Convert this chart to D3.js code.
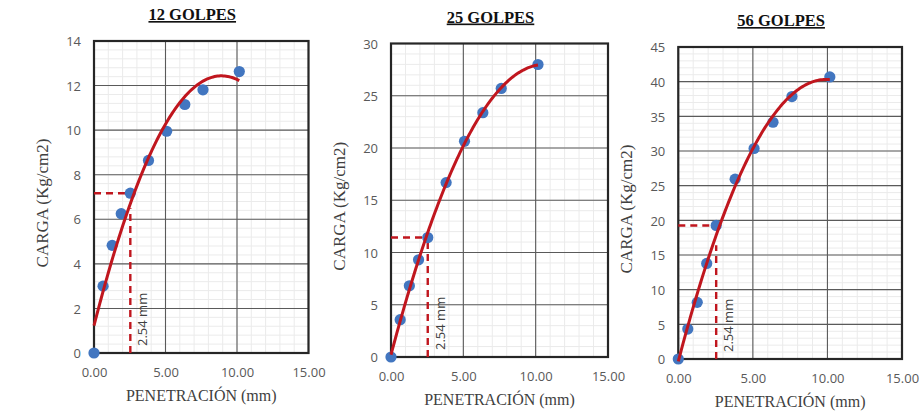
<!DOCTYPE html>
<html><head><meta charset="utf-8">
<script src="https://cdn.jsdelivr.net/npm/d3@7"></script>
<style>body{margin:0;background:#fff}</style>
</head><body><svg id="c" width="921" height="416"></svg>
<script>
// ---- data ----
const penetration = [0, 0.635, 1.27, 1.905, 2.54, 3.81, 5.08, 6.35, 7.62, 10.16];
const carga12 = [0, 3.0, 4.83, 6.25, 7.17, 8.64, 9.95, 11.15, 11.81, 12.63];
const carga25 = [0, 3.57, 6.82, 9.3, 11.43, 16.69, 20.64, 23.38, 25.7, 27.99];
const carga56 = [0, 4.32, 8.17, 13.78, 19.26, 25.94, 30.36, 34.15, 37.85, 40.68];
const titles = ["12 GOLPES", "25 GOLPES", "56 GOLPES"];
const yMax = [14, 30, 45];
const yStep = [2, 5, 5];
const xTicks = [0, 5, 10, 15];
const refPenetration = 2.54;
const refCarga = [7.17, 11.43, 19.26];  // horizontal dashed level
const refCurve = [6.5, 11.43, 16.4];    // top of vertical dashed
const refLabel = "2.54 mm";
const xTitle = "PENETRACIÓN (mm)";
const yTitle = "CARGA (Kg/cm2)";

// ---- layout ----
const frames = [
  {l: 94, r: 308.5, t: 41, b: 353},
  {l: 391, r: 608, t: 43.5, b: 357},
  {l: 678.3, r: 902, t: 47, b: 359}
];
const series = [carga12, carga25, carga56];

function polyfit2(xs, ys) {
  // least squares quadratic (trendline)
  const S = [0,0,0,0,0], T = [0,0,0];
  xs.forEach((x, i) => {
    for (let k = 0; k < 5; k++) S[k] += Math.pow(x, k);
    for (let k = 0; k < 3; k++) T[k] += ys[i] * Math.pow(x, k);
  });
  const A = [[S[0],S[1],S[2],T[0]],[S[1],S[2],S[3],T[1]],[S[2],S[3],S[4],T[2]]];
  for (let i = 0; i < 3; i++) {
    let p = i;
    for (let j = i+1; j < 3; j++) if (Math.abs(A[j][i]) > Math.abs(A[p][i])) p = j;
    [A[i], A[p]] = [A[p], A[i]];
    for (let j = 0; j < 3; j++) if (j !== i) {
      const f = A[j][i] / A[i][i];
      for (let k = i; k < 4; k++) A[j][k] -= f * A[i][k];
    }
  }
  return [A[0][3]/A[0][0], A[1][3]/A[1][1], A[2][3]/A[2][2]];
}

const svg = d3.select("#c");
const sans = "'Open Sans', 'Liberation Sans', sans-serif";
const serif = "'Liberation Serif', 'DejaVu Serif', serif";
const red = "#C0161E", blue = "#4276C0";

frames.forEach((f, pi) => {
  const ys = series[pi];
  const x = d3.scaleLinear().domain([0, 15]).range([f.l, f.r]);
  const y = d3.scaleLinear().domain([0, yMax[pi]]).range([f.b, f.t]);
  const g = svg.append("g");

  // minor grid
  const xMinor = d3.range(0, 15.001, 1);
  const yMinor = d3.range(0, yMax[pi] + 1e-6, yStep[pi] / 5);
  g.selectAll(".vmin").data(xMinor).join("line")
    .attr("x1", d => x(d)).attr("x2", d => x(d)).attr("y1", f.t).attr("y2", f.b)
    .attr("stroke", "#ebebeb").attr("stroke-width", 1);
  g.selectAll(".hmin").data(yMinor).join("line")
    .attr("y1", d => y(d)).attr("y2", d => y(d)).attr("x1", f.l).attr("x2", f.r)
    .attr("stroke", "#ebebeb").attr("stroke-width", 1);
  // major grid
  const yMajor = d3.range(0, yMax[pi] + 1e-6, yStep[pi]);
  g.selectAll(".vmaj").data(xTicks).join("line")
    .attr("x1", d => x(d)).attr("x2", d => x(d)).attr("y1", f.t).attr("y2", f.b)
    .attr("stroke", "#5a5a5a").attr("stroke-width", 1.1);
  g.selectAll(".hmaj").data(yMajor).join("line")
    .attr("y1", d => y(d)).attr("y2", d => y(d)).attr("x1", f.l).attr("x2", f.r)
    .attr("stroke", "#5a5a5a").attr("stroke-width", 1.1);

  // frame
  g.append("rect").attr("x", f.l).attr("y", f.t).attr("width", f.r - f.l).attr("height", f.b - f.t)
    .attr("fill", "none").attr("stroke", "#262626").attr("stroke-width", 2.2);

  // axes
  const xAxis = d3.axisBottom(x).tickValues(xTicks).tickFormat(d3.format(".2f")).tickSize(0).tickPadding(0);
  const xa = g.append("g").attr("transform", `translate(0,${f.b})`).call(xAxis);
  xa.select(".domain").remove();
  xa.selectAll("text").attr("y", 24).attr("dy", null)
    .attr("font-family", sans).attr("font-size", 13).attr("fill", "#595959");

  const yAxis = d3.axisLeft(y).tickValues(yMajor).tickFormat(d3.format("d")).tickSize(0).tickPadding(13);
  const ya = g.append("g").attr("transform", `translate(${f.l},0)`).call(yAxis);
  ya.select(".domain").remove();
  ya.selectAll("text").attr("dy", "0.36em")
    .attr("font-family", sans).attr("font-size", 13).attr("fill", "#595959");

  // dashed reference lines
  g.append("line").attr("x1", x(0)).attr("x2", x(refPenetration))
    .attr("y1", y(refCarga[pi])).attr("y2", y(refCarga[pi]))
    .attr("stroke", red).attr("stroke-width", 2.4).attr("stroke-dasharray", "7,5");
  g.append("line").attr("x1", x(refPenetration)).attr("x2", x(refPenetration))
    .attr("y1", y(0)).attr("y2", y(refCurve[pi]))
    .attr("stroke", red).attr("stroke-width", 2.4).attr("stroke-dasharray", "7,5");
  g.append("text").attr("transform", `translate(${x(refPenetration) + 17},${f.b - 7}) rotate(-90)`)
    .attr("font-family", sans).attr("font-size", 13).attr("fill", "#404040").text(refLabel);

  // points
  g.selectAll(".pt").data(penetration.map((p, i) => [p, ys[i]])).join("circle")
    .attr("cx", d => x(d[0])).attr("cy", d => y(d[1])).attr("r", 5.6).attr("fill", blue);

  // trendline (polynomial order 2)
  const c = polyfit2(penetration, ys);
  const xs = d3.range(0, 101).map(i => i / 100 * d3.max(penetration));
  const line = d3.line().x(d => x(d)).y(d => y(c[0] + c[1] * d + c[2] * d * d)).curve(d3.curveLinear);
  g.append("path").attr("d", line(xs)).attr("fill", "none")
    .attr("stroke", red).attr("stroke-width", 3).attr("stroke-linecap", "butt");

  // titles
  const cx = (f.l + f.r) / 2;
  g.append("text").attr("x", cx - 9).attr("y", f.t - 21).attr("text-anchor", "middle")
    .attr("font-family", serif).attr("font-size", 16.5).attr("font-weight", "bold")
    .attr("text-decoration", "underline").attr("fill", "#111").text(titles[pi]);
  g.append("text").attr("x", cx).attr("y", f.b + 48).attr("text-anchor", "middle")
    .attr("font-family", serif).attr("font-size", 16).attr("fill", "#404040").text(xTitle);
  g.append("text").attr("transform", `translate(${f.l - 46},${(f.t + f.b) / 2 + 6}) rotate(-90)`)
    .attr("text-anchor", "middle")
    .attr("font-family", serif).attr("font-size", 17).attr("fill", "#404040").text(yTitle);
});
</script></body></html>
